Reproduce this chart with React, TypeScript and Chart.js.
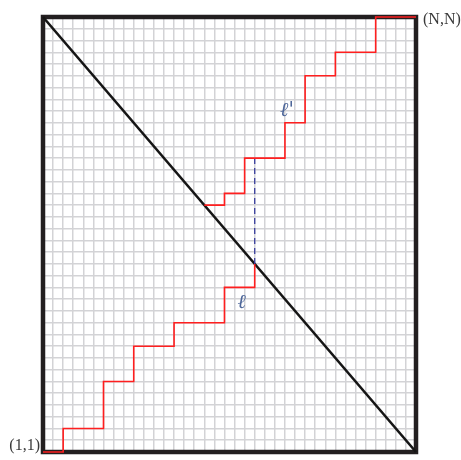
import React, { useEffect, useRef } from "react";
import { Chart, registerables } from "chart.js";

Chart.register(...registerables);

const N = 37;
const diagonalX = [0, 37];
const diagonalY = [37, 0];
const lowerPathX = [0, 2, 2, 6, 6, 9, 9, 13, 13, 18, 18, 21, 21];
const lowerPathY = [0, 0, 2, 2, 6, 6, 9, 9, 11, 11, 14, 14, 16];
const upperPathX = [16, 18, 18, 20, 20, 24, 24, 26, 26, 29, 29, 33, 33, 37];
const upperPathY = [21, 21, 22, 22, 25, 25, 28, 28, 32, 32, 34, 34, 37, 37];
const dashX = [21, 21];
const dashY = [16, 25];
const labels = ["(N,N)", "(1,1)", "ℓ'", "ℓ"];

const toPts = (xs: number[], ys: number[]) => xs.map((x, i) => ({ x, y: ys[i] }));

const overlay = {
  id: "overlay",
  beforeDatasetsDraw(chart: any) {
    const { ctx, chartArea } = chart;
    ctx.save();
    ctx.strokeStyle = "#231f20";
    ctx.lineWidth = 4.5;
    ctx.strokeRect(chartArea.left, chartArea.top, chartArea.right - chartArea.left, chartArea.bottom - chartArea.top);
    ctx.restore();
  },
  afterDatasetsDraw(chart: any) {
    const { ctx, scales } = chart;
    const xs = scales.x, ys = scales.y;
    ctx.save();
    ctx.fillStyle = "#3a3a3a";
    ctx.font = '16px "Liberation Serif", "DejaVu Serif", serif';
    ctx.textBaseline = "middle";
    ctx.textAlign = "left";
    ctx.fillText(labels[0], xs.getPixelForValue(N) + 7, ys.getPixelForValue(N) + 3);
    ctx.textAlign = "right";
    ctx.fillText(labels[1], xs.getPixelForValue(0) - 3, ys.getPixelForValue(0) - 6);
    ctx.fillStyle = "#4d6699";
    ctx.font = 'italic 20px "DejaVu Serif", serif';
    ctx.textAlign = "center";
    ctx.fillText(labels[2], xs.getPixelForValue(24.2), ys.getPixelForValue(29));
    ctx.fillText(labels[3], xs.getPixelForValue(19.7), ys.getPixelForValue(12.7));
    ctx.restore();
  },
};

export default function App() {
  const ref = useRef<HTMLCanvasElement>(null);
  useEffect(() => {
    if (!ref.current) return;
    const chart = new Chart(ref.current, {
      type: "scatter",
      data: {
        datasets: [
          {
            data: toPts(lowerPathX, lowerPathY),
            showLine: true,
            borderColor: "#ff1f1f",
            borderWidth: 1.6,
            pointRadius: 0,
            clip: 6,
          },
          {
            data: toPts(upperPathX, upperPathY),
            showLine: true,
            borderColor: "#ff1f1f",
            borderWidth: 1.6,
            pointRadius: 0,
            clip: 6,
          },
          {
            data: toPts(dashX, dashY),
            showLine: true,
            borderColor: "#3a3f9e",
            borderWidth: 1.3,
            borderDash: [6, 4],
            pointRadius: 0,
          },
          {
            data: toPts(diagonalX, diagonalY),
            showLine: true,
            borderColor: "#151515",
            borderWidth: 2.6,
            pointRadius: 0,
            clip: 6,
          },
        ],
      },
      options: {
        animation: false,
        responsive: false,
        maintainAspectRatio: false,
        layout: { padding: { left: 43, right: 45, top: 17, bottom: 8 } },
        plugins: { legend: { display: false }, tooltip: { enabled: false } },
        scales: {
          x: {
            type: "linear",
            min: 0,
            max: N,
            ticks: { display: false, stepSize: 1 },
            grid: { color: "#d3d3d6", lineWidth: 1.5, drawTicks: false },
            border: { display: false },
          },
          y: {
            type: "linear",
            min: 0,
            max: N,
            ticks: { display: false, stepSize: 1 },
            grid: { color: "#d3d3d6", lineWidth: 1.5, drawTicks: false },
            border: { display: false },
          },
        },
      },
      plugins: [overlay],
    });
    return () => chart.destroy();
  }, []);
  return (
    <div style={{ position: "fixed", left: 0, top: 0, width: 461, height: 460, background: "#fff" }}>
      <canvas ref={ref} width={461} height={460} style={{ display: "block" }} />
    </div>
  );
}
